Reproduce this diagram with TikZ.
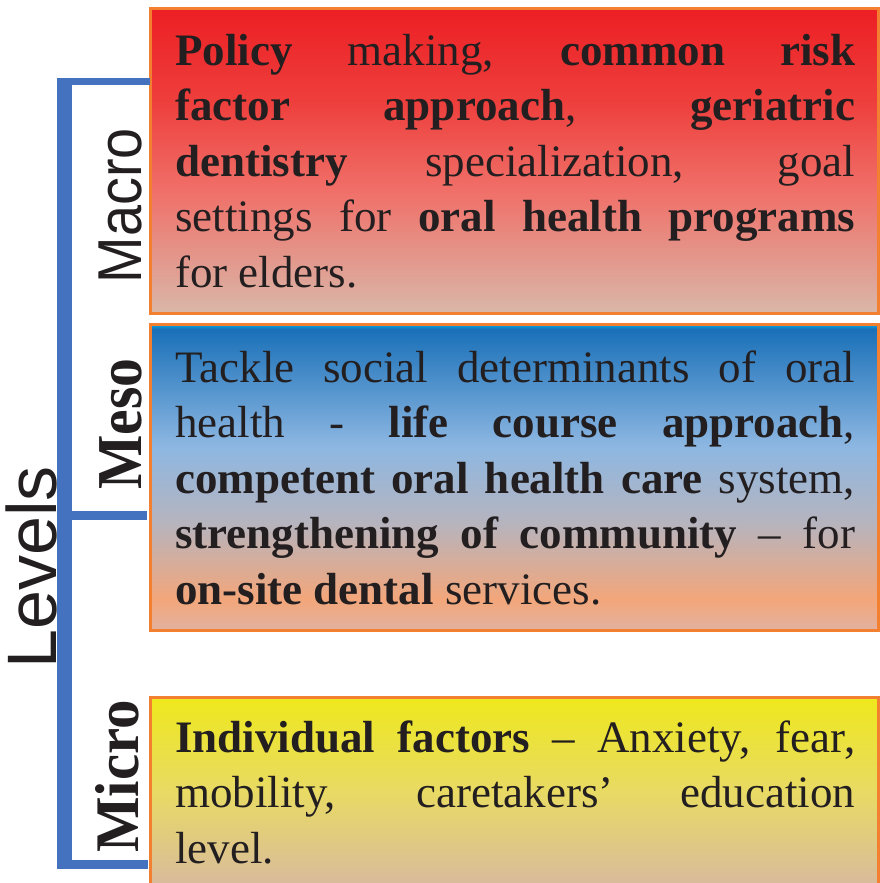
\documentclass[tikz,border=0pt]{standalone}
\usepackage{fontspec}
\setmainfont{Liberation Serif}
\newfontfamily\levelsans{Liberation Sans}
\usepackage{tikz}
\definecolor{bracketblue}{RGB}{68,114,190}
\definecolor{boxorange}{RGB}{242,128,48}
\definecolor{inktext}{RGB}{35,31,32}
\definecolor{mactop}{RGB}{236,31,36}
\definecolor{macup}{RGB}{238,62,60}
\definecolor{macmid}{RGB}{240,112,105}
\definecolor{macbot}{RGB}{217,183,168}
\definecolor{mesocyan}{RGB}{0,174,239}
\definecolor{mesodeep}{RGB}{25,112,184}
\definecolor{mesolight}{RGB}{141,183,226}
\definecolor{mesogrey}{RGB}{182,180,190}
\definecolor{mesoorange}{RGB}{243,166,122}
\definecolor{mesobot}{RGB}{226,178,160}
\definecolor{mictop}{RGB}{238,232,28}
\definecolor{micmid}{RGB}{232,218,100}
\definecolor{micbot}{RGB}{216,186,158}
\pgfdeclareverticalshading{macroshade}{100bp}{color(0bp)=(macbot); color(25bp)=(macbot);
  color(45bp)=(macmid); color(60bp)=(macup); color(75bp)=(mactop); color(100bp)=(mactop)}
\pgfdeclareverticalshading{mesoshade}{100bp}{color(0bp)=(mesobot); color(25bp)=(mesobot);
  color(30bp)=(mesoorange); color(42.5bp)=(mesogrey); color(55bp)=(mesolight);
  color(74.2bp)=(mesodeep); color(75bp)=(mesocyan); color(100bp)=(mesocyan)}
\pgfdeclareverticalshading{microshade}{100bp}{color(0bp)=(micbot); color(25bp)=(micbot);
  color(50bp)=(micmid); color(75bp)=(mictop); color(100bp)=(mictop)}
\tikzset{
    levelbox/.style={rectangle, draw=boxorange, line width=3pt, inner sep=0pt}
}
\tikzset{
    bodytext/.style={anchor=north west, inner sep=0pt, text width=680pt,
    	align=justify, text=inktext, font=\fontsize{45}{55.5}\selectfont}
}
\tikzset{
    sidelabel/.style={rotate=90, anchor=base, inner sep=0pt, text=inktext}
}
\tikzset{
    bracket/.style={draw=bracketblue, line cap=butt}
}

\begin{document}
\begin{tikzpicture}[x=1pt, y=-1pt]
  \useasboundingbox (0,0) rectangle (879,883);

  \node (macro) [levelbox, shading=macroshade, minimum width=728pt, minimum height=304pt] at (514,161) {};
  \node (meso) [levelbox, shading=mesoshade, minimum width=728pt, minimum height=306pt] at (514,477) {};
  \node (micro) [levelbox, shading=microshade, minimum width=728pt, minimum height=190pt] at (514,792) {};

  \node (macrotext) [bodytext] at (175,26.2) {\strut\textbf{Policy} making, \textbf{common risk}\linebreak
    \textbf{factor approach}, \textbf{geriatric}\linebreak
    \textbf{dentistry} specialization, goal\linebreak
    settings for \textbf{oral health programs}\linebreak
    for elders.};
  \node (mesotext) [bodytext] at (175,343.2) {\strut Tackle social determinants of oral\linebreak
    health - \textbf{life course approach},\linebreak
    \textbf{competent oral health care} system,\linebreak
    \textbf{strengthening of community} – for\linebreak
    \textbf{on-site dental} services.};
  \node (microtext) [bodytext] at (175,713.2) {\strut\textbf{Individual factors} – Anxiety, fear,\linebreak
    mobility, caretakers’ education\linebreak
    level.};

  \node (levels) [sidelabel, font=\levelsans\fontsize{70}{70}\selectfont] at (56,567.5) {Levels};
  \node (macrolabel) [sidelabel, font=\levelsans\fontsize{62}{62}\selectfont] at (141.7,205.5) {\scalebox{0.9}[1]{Macro}};
  \node (mesolabel) [sidelabel, font=\bfseries\fontsize{64}{64}\selectfont] at (141.7,424) {\scalebox{0.9}[1]{Meso}};
  \node (microlabel) [sidelabel, font=\bfseries\fontsize{62}{62}\selectfont] at (138,776.5) {\scalebox{0.95}[1]{Micro}};

  \coordinate (btop) at (64.4,78);
  \coordinate (bbot) at (64.4,869);
  \coordinate (topleft) at (57,81.5);
  \coordinate (topright) at (150,81.5);
  \coordinate (midleft) at (71,515.5);
  \coordinate (midright) at (147,515.5);
  \coordinate (botleft) at (57,864.5);
  \coordinate (botright) at (148,864.5);

  \draw [bracket, line width=14.4pt] (btop) -- (bbot);
  \draw [bracket, line width=7pt] (topleft) -- (topright);
  \draw [bracket, line width=9pt] (midleft) -- (midright);
  \draw [bracket, line width=9pt] (botleft) -- (botright);
\end{tikzpicture}
\end{document}
